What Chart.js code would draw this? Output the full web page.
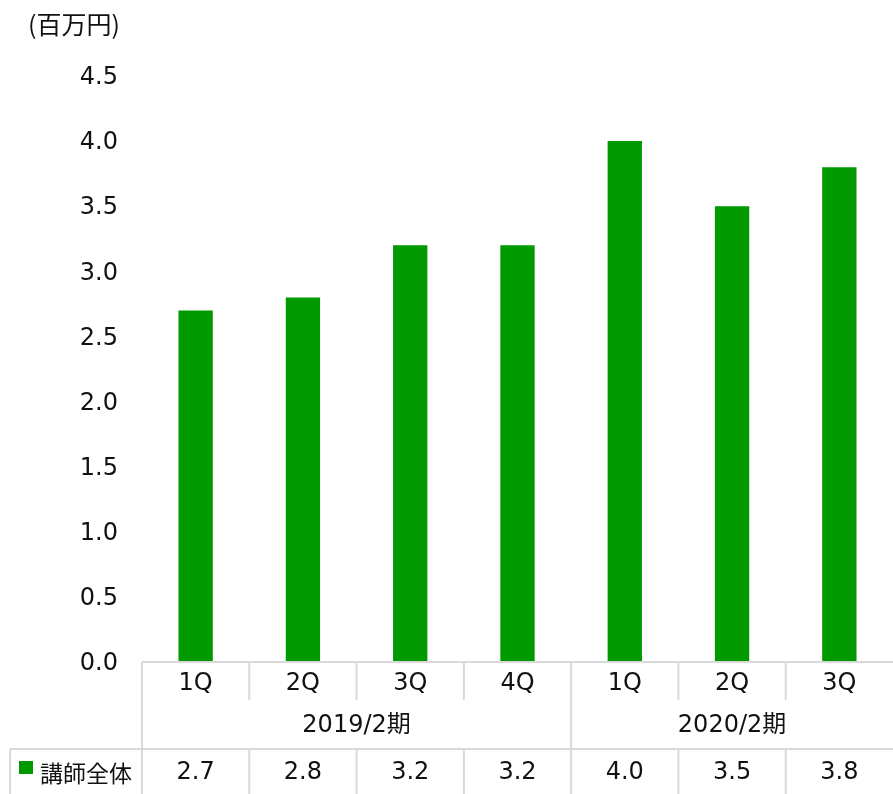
<!DOCTYPE html>
<html>
<head>
<meta charset="utf-8">
<script src="https://cdn.jsdelivr.net/npm/chart.js@4.4.1/dist/chart.umd.min.js"></script>
<style>
html,body{margin:0;padding:0;background:#fff;}
#wrap{width:893px;height:794px;position:relative;}
</style>
</head>
<body>
<div id="wrap"><canvas id="c" width="893" height="794"></canvas></div>
<script>
const quarters = ["1Q","2Q","3Q","4Q","1Q","2Q","3Q"];
const periods = ["2019/2期","2019/2期","2019/2期","2019/2期","2020/2期","2020/2期","2020/2期"];
const seriesName = "講師全体";
const values = [2.7, 2.8, 3.2, 3.2, 4.0, 3.5, 3.8];
const yTicks = [0, 0.5, 1.0, 1.5, 2.0, 2.5, 3.0, 3.5, 4.0, 4.5];
const unitLabel = "(百万円)";

const FONT = '"DejaVu Sans", "Noto Sans CJK JP", sans-serif';
const JFONT = '"Noto Sans CJK JP", "DejaVu Sans", sans-serif';
const GREEN = '#009900';
const LINE = '#d9d9d9';
const TXT = '#111111';

const tablePlugin = {
  id: 'tablePlugin',
  afterDraw(chart) {
    const ctx = chart.ctx;
    const xs = chart.scales.x;
    const area = chart.chartArea;
    const n = quarters.length;
    const left = area.left, right = area.right;
    const cw = (right - left) / n;
    const y0 = area.bottom;
    const rowQ = y0 + 38, rowD = y0 + 87, bottom = 794;
    ctx.save();
    ctx.strokeStyle = LINE;
    ctx.lineWidth = 2;
    ctx.beginPath();
    ctx.moveTo(left, y0); ctx.lineTo(right, y0);
    ctx.moveTo(10, rowD); ctx.lineTo(right, rowD);
    ctx.moveTo(10, rowD); ctx.lineTo(10, bottom);
    for (let i = 0; i < n; i++) {
      const bx = left + i * cw;
      const groupStart = i === 0 || periods[i] !== periods[i - 1];
      if (groupStart) {
        ctx.moveTo(bx, y0); ctx.lineTo(bx, bottom);
      } else {
        ctx.moveTo(bx, y0); ctx.lineTo(bx, rowQ);
        ctx.moveTo(bx, rowD); ctx.lineTo(bx, bottom);
      }
    }
    ctx.stroke();

    ctx.fillStyle = TXT;
    ctx.textAlign = 'center';
    ctx.textBaseline = 'middle';
    ctx.font = '24px ' + FONT;
    for (let i = 0; i < n; i++) {
      const cx = xs.getPixelForValue(i);
      ctx.fillText(quarters[i], cx, y0 + 22);
      ctx.fillText(values[i].toFixed(1), cx, rowD + 24);
    }
    // group labels
    let s = 0;
    for (let i = 1; i <= n; i++) {
      if (i === n || periods[i] !== periods[s]) {
        const cx = (xs.getPixelForValue(s) + xs.getPixelForValue(i - 1)) / 2;
        ctx.font = '24px ' + FONT;
        ctx.fillText(periods[s], cx, y0 + 64);
        s = i;
      }
    }
    // legend key
    ctx.fillStyle = GREEN;
    ctx.fillRect(19, rowD + 12, 14, 13);
    ctx.fillStyle = TXT;
    ctx.textAlign = 'left';
    ctx.font = '23px ' + JFONT;
    ctx.fillText(seriesName, 40, rowD + 24);
    // unit label
    ctx.font = '25px ' + JFONT;
    ctx.fillText(unitLabel, 28, 24);
    ctx.restore();
  }
};

new Chart(document.getElementById('c'), {
  type: 'bar',
  data: {
    labels: quarters.map((q, i) => periods[i] + ' ' + q),
    datasets: [{
      label: seriesName,
      data: values,
      backgroundColor: GREEN,
      borderWidth: 0,
      categoryPercentage: 1.0,
      barPercentage: 0.32
    }]
  },
  options: {
    responsive: false,
    animation: false,
    devicePixelRatio: 1,
    layout: { padding: { top: 76, bottom: 132, left: 0, right: 0 } },
    plugins: { legend: { display: false }, tooltip: { enabled: false } },
    scales: {
      x: { display: false, offset: true, grid: { display: false } },
      y: {
        min: 0, max: 4.5,
        afterFit(scale) { scale.width = 142; },
        afterBuildTicks(scale) { scale.ticks = yTicks.map(v => ({ value: v })); },
        grid: { display: false, drawTicks: false },
        border: { display: false },
        ticks: {
          padding: 24,
          labelOffset: 2,
          color: TXT,
          font: { family: FONT, size: 24 },
          callback: v => Number(v).toFixed(1)
        }
      }
    }
  },
  plugins: [tablePlugin]
});
</script>
</body>
</html>
